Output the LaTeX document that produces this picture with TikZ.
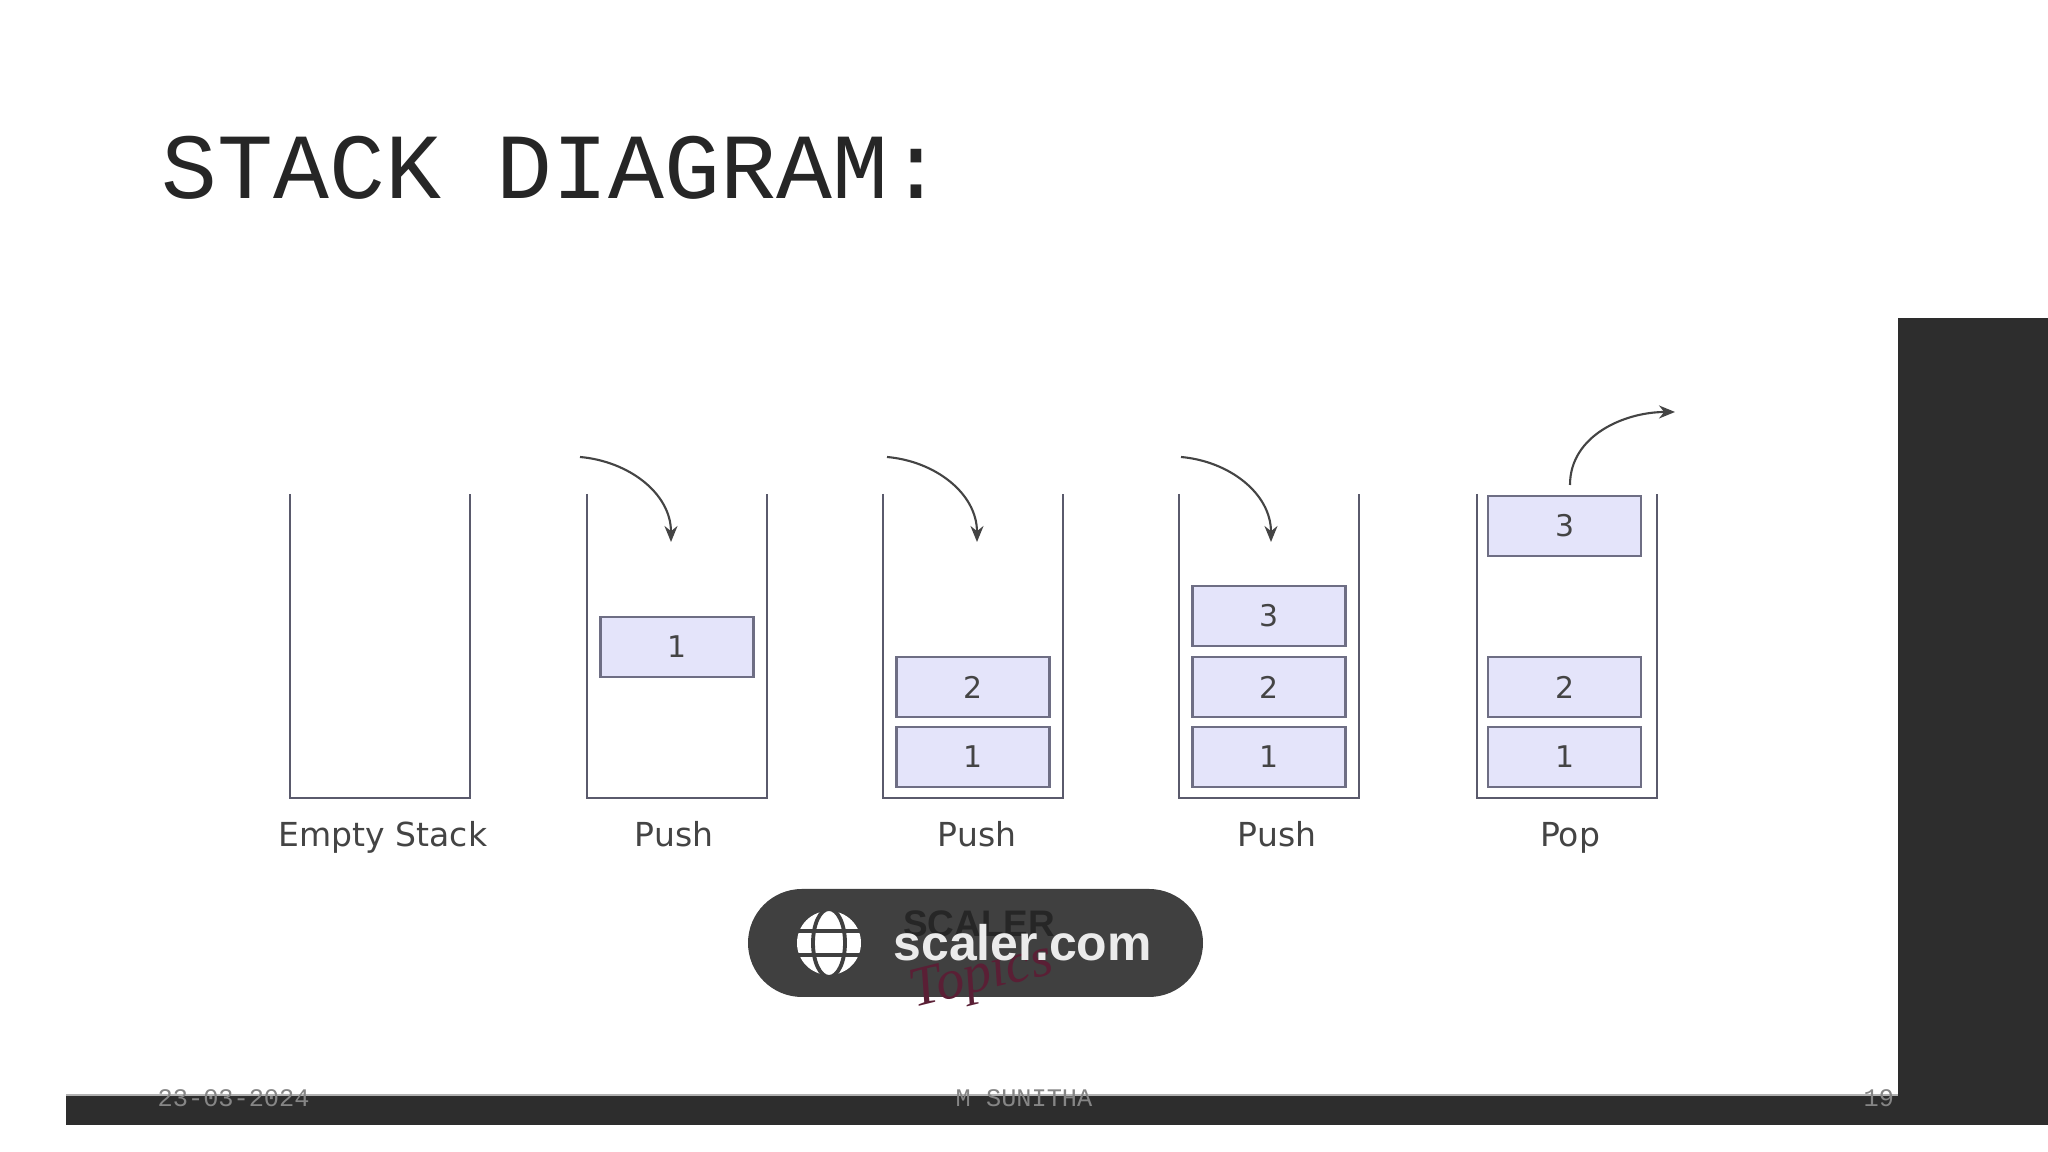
\documentclass[tikz,border=0pt]{standalone}
\usepackage{fontspec}
\setmainfont{DejaVu Sans}
\newfontfamily\slidefont{Liberation Mono}
\newfontfamily\pillfont{Liberation Sans}
\newfontfamily\logofont{Liberation Serif}
\usetikzlibrary{arrows.meta, positioning}
\definecolor{wallgray}{HTML}{5A5A6C}
\definecolor{itembg}{HTML}{E4E4FA}
\definecolor{itemedge}{HTML}{6E6E84}
\definecolor{labelgray}{HTML}{444444}
\definecolor{panelblack}{HTML}{2D2D2D}
\definecolor{pillgray}{HTML}{404040}
\definecolor{footgray}{HTML}{858585}
\definecolor{logored}{HTML}{5A1F35}
\tikzset{
  stackframe/.style={minimum width=1.8cm, minimum height=3.04cm, inner sep=0pt, outer sep=0pt},
  wall/.style={draw=wallgray, line width=0.8pt, line join=miter},
  itembox/.style={draw=itemedge, fill=itembg, line width=0.7pt, minimum width=1.53cm,
                  minimum height=0.6cm, inner sep=0pt, outer sep=0pt,
                  font=\fontsize{8.5pt}{10pt}\selectfont, text=labelgray},
  stacklabel/.style={font=\fontsize{9.4pt}{11pt}\selectfont, text=labelgray, anchor=base},
  movearr/.style={-{Stealth[length=1.6mm,width=1.3mm]}, line width=0.6pt, draw=labelgray},
  footnode/.style={font=\slidefont\fontsize{7.2pt}{9pt}\selectfont, text=footgray, anchor=base west, inner sep=0pt},
  darkblock/.style={fill=panelblack, draw=none, inner sep=0pt, outer sep=0pt},
}
\begin{document}
\begin{tikzpicture}
  \useasboundingbox (0,0) rectangle (20.48,11.52);
  \fill[white] (0,0) rectangle (20.48,11.52);

  %% slide frame
  \node[darkblock, anchor=south west, minimum width=19.82cm, minimum height=0.30cm] (bar) at (0.66,0.27) {};
  \node[darkblock, anchor=south west, minimum width=1.50cm, minimum height=8.07cm] (panel) at (18.98,0.27) {};
  \draw[gray!60, line width=0.5pt] (bar.north west) -- (panel.west |- bar.north);

  %% title
  \node[font=\slidefont\fontsize{26.5pt}{30pt}\selectfont, text=black!85, anchor=base west, inner sep=0pt]
    (title) at (1.61,9.53) {STACK DIAGRAM:};

  %% stacks
  \node[stackframe] (s1) at (3.80,5.06) {};
  \node[stackframe, right=1.17cm of s1] (s2) {};
  \node[stackframe, right=1.16cm of s2] (s3) {};
  \node[stackframe, right=1.16cm of s3] (s4) {};
  \node[stackframe, right=1.18cm of s4] (s5) {};

  \draw[wall] (s1.north west) -- (s1.south west) -- (s1.south east) -- (s1.north east);
  \draw[wall] (s2.north west) -- (s2.south west) -- (s2.south east) -- (s2.north east);
  \draw[wall] (s3.north west) -- (s3.south west) -- (s3.south east) -- (s3.north east);
  \draw[wall] (s4.north west) -- (s4.south west) -- (s4.south east) -- (s4.north east);
  \draw[wall] (s5.north west) -- (s5.south west) -- (s5.south east) -- (s5.north east);

  %% items
  \node[itembox, above=1.21cm of s2.south] (a1) {1};

  \node[itembox, above=0.11cm of s3.south] (b1) {1};
  \node[itembox, above=0.10cm of b1] (b2) {2};

  \node[itembox, above=0.11cm of s4.south] (c1) {1};
  \node[itembox, above=0.10cm of c1] (c2) {2};
  \node[itembox, above=0.11cm of c2] (c3) {3};

  \node[itembox, above=0.11cm of s5.south, xshift=-0.025cm] (d1) {1};
  \node[itembox, above=0.10cm of d1] (d2) {2};
  \node[itembox, above=1.01cm of d2] (d3) {3};

  %% captions
  \node[stacklabel] (l1) at (3.83,3.05) {Empty Stack};
  \node[stacklabel] (l2) at (6.74,3.05) {Push};
  \node[stacklabel] (l3) at (9.77,3.05) {Push};
  \node[stacklabel] (l4) at (12.77,3.05) {Push};
  \node[stacklabel] (l5) at (15.70,3.05) {Pop};

  %% arrows
  \coordinate (p1) at (5.80,6.95);
  \coordinate (q1) at (6.71,6.10);
  \coordinate (p2) at (8.87,6.95);
  \coordinate (q2) at (9.77,6.10);
  \coordinate (p3) at (11.81,6.95);
  \coordinate (q3) at (12.71,6.10);
  \coordinate (p4) at (15.70,6.67);
  \coordinate (q4) at (16.75,7.40);
  \draw[movearr] (p1) to[out=-5, in=90] (q1);
  \draw[movearr] (p2) to[out=-5, in=90] (q2);
  \draw[movearr] (p3) to[out=-5, in=90] (q3);
  \draw[movearr] (p4) to[out=90, in=180] (q4);

  %% source badge
  \node[fill=pillgray, rounded corners=0.54cm, minimum width=4.55cm, minimum height=1.08cm,
        inner sep=0pt] (pill) at (9.755,2.09) {};
  \node[font=\pillfont\bfseries\fontsize{10.5pt}{12pt}\selectfont, text=black!85] (scl) at (9.79,2.28) {SCALER};
  \node[font=\logofont\itshape\fontsize{16pt}{18pt}\selectfont, text=logored, rotate=14, inner sep=0pt]
    (tpc) at (9.82,1.74) {Topics};
  \node[circle, fill=white, minimum size=0.64cm, inner sep=0pt] (globe) at (8.29,2.09) {};
  \draw[pillgray, line width=1.1pt] (globe.center) ellipse (0.16 and 0.34);
  \draw[pillgray, line width=1.1pt] ([yshift=0.12cm]globe.west) -- ([yshift=0.12cm]globe.east);
  \draw[pillgray, line width=1.1pt] ([yshift=-0.12cm]globe.west) -- ([yshift=-0.12cm]globe.east);
  \node[font=\pillfont\bfseries\fontsize{14.2pt}{16pt}\selectfont, text=white!92!black, anchor=base west, inner sep=0pt]
    (url) at (8.93,1.91) {scaler.com};

  %% footer
  \node[footnode] (fdate) at (1.57,0.45) {23-03-2024};
  \node[footnode] (fname) at (9.55,0.45) {M SUNITHA};
  \node[footnode] (fpage) at (18.63,0.45) {19};

\end{tikzpicture}
\end{document}
